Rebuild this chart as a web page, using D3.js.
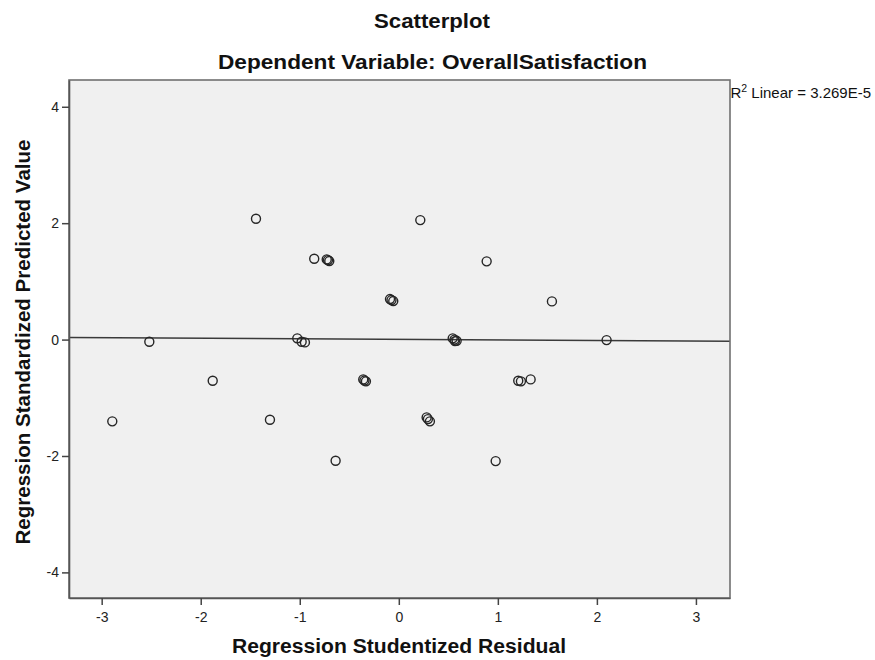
<!DOCTYPE html>
<html>
<head>
<meta charset="utf-8">
<script src="https://cdn.jsdelivr.net/npm/d3@7"></script>
<style>
  html, body { margin: 0; padding: 0; background: #fff; }
  svg { display: block; font-family: "Liberation Sans", Arial, sans-serif; }
</style>
</head>
<body>
<svg id="chart" width="875" height="660"></svg>
<script>
// ---- Data ----
const residuals = [
  -2.893, -2.519, -1.879, -1.442, -1.301,
  -1.025, -0.981, -0.948,
  -0.854, -0.728, -0.702, -0.715,
  -0.638,
  -0.359, -0.332, -0.347,
  -0.089, -0.056, -0.074,
  0.217,
  0.281, 0.314, 0.294,
  0.544, 0.584, 0.562, 0.567,
  0.887, 0.978,
  1.206, 1.233, 1.331,
  1.546, 2.098
];
const predicted = [
  -1.405, -0.038, -0.708, 2.076, -1.378,
  0.021, -0.038, -0.048,
  1.388, 1.378, 1.349, 1.366,
  -2.082,
  -0.684, -0.718, -0.704,
  0.696, 0.662, 0.679,
  2.053,
  -1.337, -1.405, -1.366,
  0.021, -0.021, 0.000, -0.026,
  1.344, -2.088,
  -0.708, -0.718, -0.684,
  0.656, -0.009
];
const xTicks = [-3, -2, -1, 0, 1, 2, 3];
const yTicks = [-4, -2, 0, 2, 4];
const xDomain = [-3.33, 3.344];
const yDomain = [-4.44, 4.46];
const fitIntercept = 0.004;
const fitSlope = -0.0095;
const titleText = "Scatterplot";
const subtitleText = "Dependent Variable: OverallSatisfaction";
const xLabel = "Regression Studentized Residual";
const yLabel = "Regression Standardized Predicted Value";
const r2Value = "3.269E-5";

// ---- Layout ----
const svg = d3.select("#chart");
const plot = { left: 69, right: 730, top: 80, bottom: 598 };

const x = d3.scaleLinear().domain(xDomain).range([plot.left, plot.right]);
const y = d3.scaleLinear().domain(yDomain).range([plot.bottom, plot.top]);

// plot background
svg.append("rect")
  .attr("x", plot.left).attr("y", plot.top)
  .attr("width", plot.right - plot.left).attr("height", plot.bottom - plot.top)
  .attr("fill", "#f0f0f0");

// fit line
svg.append("line")
  .attr("x1", x(xDomain[0])).attr("y1", y(fitIntercept + fitSlope * xDomain[0]))
  .attr("x2", x(xDomain[1])).attr("y2", y(fitIntercept + fitSlope * xDomain[1]))
  .attr("stroke", "#3a3a3a").attr("stroke-width", 1.4);

// points
svg.append("g").selectAll("circle")
  .data(residuals.map((r, i) => ({ r, p: predicted[i] })))
  .join("circle")
  .attr("cx", d => x(d.r))
  .attr("cy", d => y(d.p))
  .attr("r", 4.5)
  .attr("fill", "none")
  .attr("stroke", "#262626")
  .attr("stroke-width", 1.4);

// frame
svg.append("rect")
  .attr("x", plot.left).attr("y", plot.top)
  .attr("width", plot.right - plot.left).attr("height", plot.bottom - plot.top)
  .attr("fill", "none").attr("stroke", "#707070").attr("stroke-width", 1.6);

// axes
const xAxis = svg.append("g")
  .attr("transform", `translate(0,${plot.bottom})`)
  .call(d3.axisBottom(x).tickValues(xTicks).tickSize(7).tickSizeOuter(0).tickPadding(7));
const yAxis = svg.append("g")
  .attr("transform", `translate(${plot.left},0)`)
  .call(d3.axisLeft(y).tickValues(yTicks).tickSize(7).tickSizeOuter(0).tickPadding(3));

[xAxis, yAxis].forEach(a => {
  a.select(".domain").attr("stroke", "#555").attr("stroke-width", 1.6);
  a.selectAll(".tick line").attr("stroke", "#444").attr("stroke-width", 1.5);
  a.selectAll(".tick text")
    .attr("font-family", "'Liberation Sans', Arial, sans-serif")
    .attr("font-size", 14).attr("fill", "#222")
    .text(d => d < 0 ? "-" + Math.abs(d) : String(d));
});

// titles
function boldText(tx, ty, str, len) {
  return svg.append("text")
    .attr("x", tx).attr("y", ty)
    .attr("text-anchor", "middle")
    .attr("font-size", 20).attr("font-weight", "bold").attr("fill", "#111")
    .attr("textLength", len).attr("lengthAdjust", "spacingAndGlyphs")
    .text(str);
}
boldText(432, 28, titleText, 116);
boldText(432.5, 69, subtitleText, 429);

// axis labels
boldText(399, 653, xLabel, 334);
svg.append("text")
  .attr("transform", `translate(30,342) rotate(-90)`)
  .attr("text-anchor", "middle")
  .attr("font-size", 20).attr("font-weight", "bold").attr("fill", "#111")
  .attr("textLength", 405).attr("lengthAdjust", "spacingAndGlyphs")
  .text(yLabel);

// R² label
const r2 = svg.append("text")
  .attr("x", plot.right + 0.5).attr("y", 98)
  .attr("font-size", 15).attr("fill", "#111");
r2.append("tspan").text("R");
r2.append("tspan").attr("dy", -6).attr("font-size", 10.5).text("2");
r2.append("tspan").attr("dy", 6).text(" Linear = " + r2Value);
</script>
</body>
</html>
